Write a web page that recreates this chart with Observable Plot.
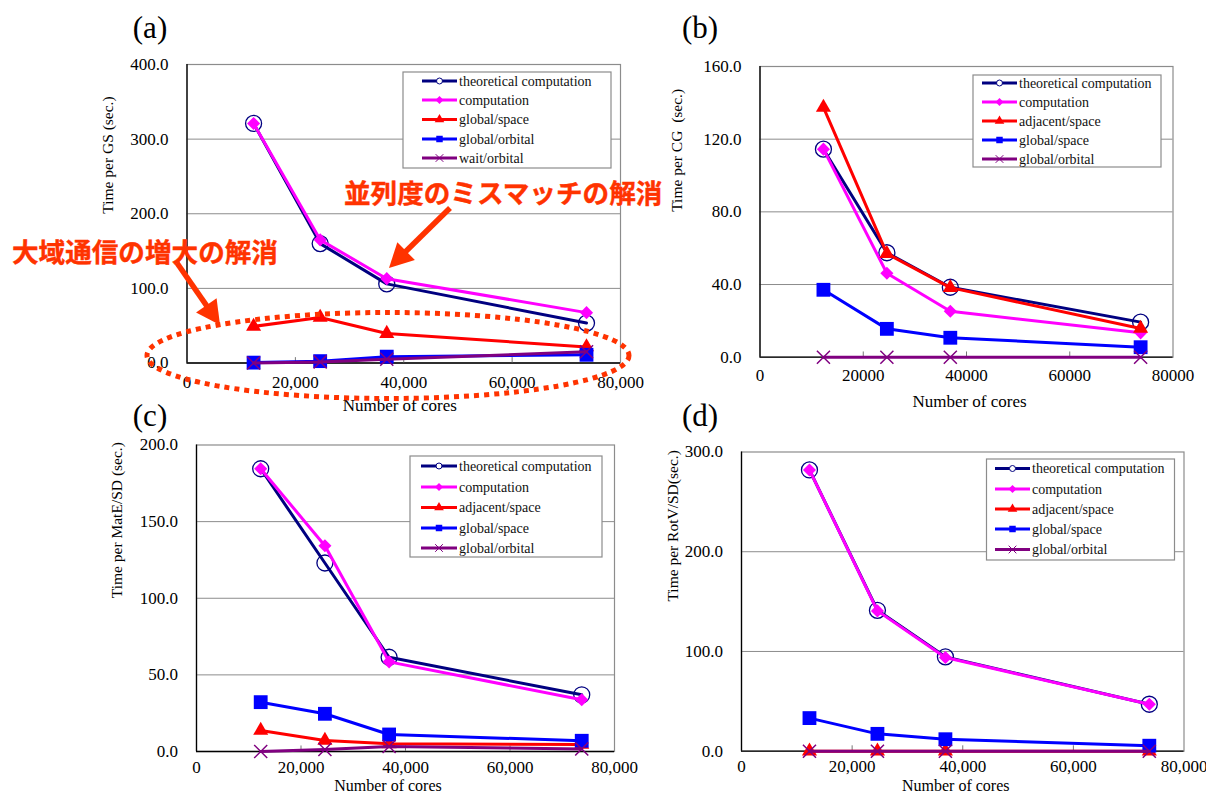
<!DOCTYPE html>
<html><head><meta charset="utf-8">
<script src="https://cdn.jsdelivr.net/npm/d3@7"></script>
<script src="https://cdn.jsdelivr.net/npm/@observablehq/plot@0.6"></script>
<style>
body{margin:0;background:#fff;}
#wrap{position:relative;width:1206px;height:794px;overflow:hidden;background:#fff;}
#wrap svg{position:absolute;overflow:visible;}
.serif{font-family:"Liberation Serif","Times New Roman",Times,serif;}
.jp{font-family:"Noto Sans CJK JP","Noto Sans CJK SC",sans-serif;font-weight:700;}
</style></head><body><div id="wrap"></div>
<script>
// ---------- data ----------
const cores = [12288, 24576, 36864, 73728];
const xTicks = [0, 20000, 40000, 60000, 80000];
const xLabel = "Number of cores";

// (a) Time per GS
const aNames = ["theoretical computation", "computation", "global/space", "global/orbital", "wait/orbital"];
const aTheoretical = [321, 160, 106, 53.5];
const aComputation = [321, 165, 113, 67.5];
const aGlobalSpace = [49, 61, 39.5, 21.5];
const aGlobalOrbital = [0.5, 2.5, 8.5, 11];
const aWaitOrbital = [0, 1.5, 5, 15];
const aYTicks = [0, 100, 200, 300, 400];
const aYLabel = "Time per GS (sec.)";

// (b) Time per CG
const bNames = ["theoretical computation", "computation", "adjacent/space", "global/space", "global/orbital"];
const bTheoretical = [114.5, 57.5, 38.5, 19.3];
const bComputation = [114.5, 46.2, 25.3, 13.4];
const bAdjacentSpace = [137.5, 57, 38.3, 15.8];
const bGlobalSpace = [37.1, 15.6, 10.7, 5.5];
const bGlobalOrbital = [0, 0, 0, 0];
const bYTicks = [0, 40, 80, 120, 160];
const bYLabel = "Time per CG\u00a0 (sec.)";

// (c) Time per MatE/SD
const cNames = ["theoretical computation", "computation", "adjacent/space", "global/space", "global/orbital"];
const cTheoretical = [184.5, 123, 61.5, 37];
const cComputation = [184.5, 134.3, 58.5, 33.8];
const cAdjacentSpace = [13.7, 7.2, 5, 4.6];
const cGlobalSpace = [32.2, 24.6, 11.1, 7];
const cGlobalOrbital = [0, 1.3, 3.3, 1.7];
const cYTicks = [0, 50, 100, 150, 200];
const cYLabel = "Time per MatE/SD (sec.)";

// (d) Time per RotV/SD
const dNames = ["theoretical computation", "computation", "adjacent/space", "global/space", "global/orbital"];
const dTheoretical = [282, 141.3, 94.6, 47.1];
const dComputation = [282, 140.7, 94, 47];
const dAdjacentSpace = [0, 0, 0, 0];
const dGlobalSpace = [33.2, 17.4, 12, 5.5];
const dGlobalOrbital = [0, 0, 0, 0];
const dYTicks = [0, 100, 200, 300];
const dYLabel = "Time per RotV/SD(sec.)";

const noteLeft = "大域通信の増大の解消";
const noteRight = "並列度のミスマッチの解消";

// ---------- styles ----------
const SERIF = "'Liberation Serif', 'Times New Roman', Times, serif";
const styles = [
  {color: "#000080", symbol: "circle", r: 8, fill: "none", stroke: "#000080", sw: 1.3},
  {color: "#ff00ff", symbol: "diamond2", r: 5.9, fill: "#ff00ff", stroke: "none", sw: 0},
  {color: "#ff0000", symbol: "triangle", r: 5.6, fill: "#ff0000", stroke: "none", sw: 0},
  {color: "#0000ff", symbol: "square", r: 7.8, fill: "#0000ff", stroke: "none", sw: 0},
  {color: "#800080", symbol: "times", r: 6, fill: "none", stroke: "#800080", sw: 1.5}
];

const wrap = document.getElementById("wrap");

function panel(cfg) {
  const {box, frame, names, values, yTicks, yLabel, xFmt, yLabDx, xLabDx, xLabDy, tickPad, xLabSize} = cfg;
  const ymax = yTicks[yTicks.length - 1];
  const marks = [
    Plot.ruleY(yTicks.filter(t => t > 0 && t < ymax), {y: d => d, stroke: "#8c8c8c", strokeWidth: 1}),
    Plot.frame({stroke: "#8c8c8c", strokeWidth: 1.2}),
    Plot.ruleX([0], {x: d => d, stroke: "#000", strokeWidth: 1.3}),
    Plot.ruleY([0], {y: d => d, stroke: "#000", strokeWidth: 1.3}),
    Plot.ruleX(xTicks.slice(1, -1), {x: d => d, y1: 0, y2: ymax * 0.018, stroke: "#777"}),
    Plot.axisY({ticks: yTicks, tickSize: 0, tickPadding: 18.5, tickFormat: d3.format(".1f"), label: null, fontSize: 17}),
    Plot.axisX({ticks: xTicks, tickSize: 0, tickPadding: tickPad, tickFormat: xFmt, label: null, fontSize: 17})
  ];
  names.forEach((n, i) => {
    const s = styles[i];
    const rows = values[i].map((v, j) => ({x: cores[j], y: v, series: n}));
    marks.push(Plot.line(rows, {x: "x", y: "y", stroke: s.color, strokeWidth: 3}));
    marks.push(Plot.dot(rows, {x: "x", y: "y", symbol: s.symbol, r: s.r, fill: s.fill, stroke: s.stroke, strokeWidth: s.sw}));
  });
  marks.push(Plot.text([yLabel], {frameAnchor: "left", dx: yLabDx, rotate: -90, fontSize: 15.5, fill: "#000"}));
  marks.push(Plot.text([xLabel], {frameAnchor: "bottom", dx: xLabDx, dy: xLabDy, lineAnchor: "middle", fontSize: xLabSize, fill: "#000"}));
  const svg = Plot.plot({
    width: box.w, height: box.h,
    marginLeft: frame.x0 - box.left, marginTop: frame.y0 - box.top,
    marginRight: box.left + box.w - frame.x1, marginBottom: box.top + box.h - frame.y1,
    x: {domain: [0, 80000]},
    y: {domain: [0, ymax]},
    style: {fontFamily: SERIF, fontSize: "17px", background: "transparent", color: "#000", overflow: "visible"},
    marks
  });
  svg.style.left = box.left + "px";
  svg.style.top = box.top + "px";
  wrap.appendChild(svg);
}

const comma = d3.format(",");
panel({box: {left: 0, top: 0, w: 650, h: 415}, frame: {x0: 186.5, x1: 620, y0: 64, y1: 362.5},
  names: aNames, values: [aTheoretical, aComputation, aGlobalSpace, aGlobalOrbital, aWaitOrbital],
  yTicks: aYTicks, yLabel: aYLabel, xFmt: comma, yLabDx: -78.5, xLabDx: -4, xLabDy: 42.5, tickPad: 12.5, xLabSize: 17});
panel({box: {left: 640, top: 0, w: 566, h: 412}, frame: {x0: 759.5, x1: 1172.5, y0: 66, y1: 356.7},
  names: bNames, values: [bTheoretical, bComputation, bAdjacentSpace, bGlobalSpace, bGlobalOrbital],
  yTicks: bYTicks, yLabel: bYLabel, xFmt: d3.format("d"), yLabDx: -82.5, xLabDx: 3, xLabDy: 44, tickPad: 12, xLabSize: 17});
panel({box: {left: 0, top: 420, w: 640, h: 374}, frame: {x0: 196, x1: 614, y0: 444.5, y1: 751},
  names: cNames, values: [cTheoretical, cComputation, cAdjacentSpace, cGlobalSpace, cGlobalOrbital],
  yTicks: cYTicks, yLabel: cYLabel, xFmt: comma, yLabDx: -79, xLabDx: -17.5, xLabDy: 34, tickPad: 9, xLabSize: 16});
panel({box: {left: 640, top: 420, w: 566, h: 374}, frame: {x0: 741, x1: 1183.5, y0: 451.5, y1: 750.7},
  names: dNames, values: [dTheoretical, dComputation, dAdjacentSpace, dGlobalSpace, dGlobalOrbital],
  yTicks: dYTicks, yLabel: dYLabel, xFmt: comma, yLabDx: -68, xLabDx: -7, xLabDy: 34.3, tickPad: 9, xLabSize: 16});

// ---------- overlay: legends, panel letters, annotations ----------
const ov = d3.select(wrap).append("svg").attr("width", 1206).attr("height", 794)
  .style("left", "0px").style("top", "0px");

const legends = [
  {names: aNames, x0: 403, y0: 72, x1: 611, y1: 168, rows: [81, 100, 119.5, 139, 158], s0: 422, s1: 457, tx: 459},
  {names: bNames, x0: 973, y0: 75, x1: 1161, y1: 167, rows: [83, 102, 121, 140, 159], s0: 982, s1: 1017, tx: 1019},
  {names: cNames, x0: 410, y0: 456, x1: 602, y1: 557, rows: [466, 487, 507.5, 528, 548], s0: 421, s1: 457, tx: 459},
  {names: dNames, x0: 986.5, y0: 459, x1: 1174.5, y1: 560, rows: [468.5, 489, 509, 529, 549.5], s0: 995, s1: 1030, tx: 1032}
];
const legSym = [
  {t: d3.symbolCircle, size: 28},
  {t: d3.symbolDiamond2, size: 40},
  {t: d3.symbolTriangle, size: 40},
  {t: d3.symbolSquare, size: 42},
  {t: d3.symbolTimes, size: 40}
];
legends.forEach(L => {
  ov.append("rect").attr("x", L.x0).attr("y", L.y0).attr("width", L.x1 - L.x0).attr("height", L.y1 - L.y0)
    .attr("fill", "#fff").attr("stroke", "#8c8c8c").attr("stroke-width", 1.2);
  L.names.forEach((n, i) => {
    const s = styles[i], y = L.rows[i];
    ov.append("line").attr("x1", L.s0).attr("x2", L.s1).attr("y1", y).attr("y2", y)
      .attr("stroke", s.color).attr("stroke-width", 3);
    ov.append("path").attr("transform", `translate(${(L.s0 + L.s1) / 2},${y})`)
      .attr("d", d3.symbol(legSym[i].t, legSym[i].size)())
      .attr("fill", s.fill === "none" ? (i === 0 ? "#fff" : "none") : s.fill)
      .attr("stroke", s.stroke).attr("stroke-width", s.sw ? 1 : 0);
    ov.append("text").attr("class", "serif").attr("font-family", SERIF).attr("x", L.tx).attr("y", y).attr("dy", "0.35em")
      .style("font-size", "14px").attr("fill", "#111").text(n);
  });
});

const letters = [["(a)", 150, 38], ["(b)", 700, 38], ["(c)", 150, 426], ["(d)", 700, 426]];
letters.forEach(([t, x, y]) => {
  ov.append("text").attr("class", "serif").attr("x", x).attr("y", y).attr("text-anchor", "middle")
    .style("font-size", "31px").attr("fill", "#000").text(t);
});

const RED = "#ff3300";
ov.append("ellipse").attr("cx", 388).attr("cy", 355.5).attr("rx", 241).attr("ry", 43)
  .attr("fill", "none").attr("stroke", RED).attr("stroke-width", 5).attr("stroke-dasharray", "5 5");

function arrow(x1, y1, x2, y2) {
  const dx = x2 - x1, dy = y2 - y1, L = Math.hypot(dx, dy), ux = dx / L, uy = dy / L, px = -uy, py = ux;
  const hl = 24, hw = 12.5, bx = x2 - ux * hl, by = y2 - uy * hl;
  ov.append("line").attr("x1", x1).attr("y1", y1).attr("x2", bx + ux * 2).attr("y2", by + uy * 2)
    .attr("stroke", RED).attr("stroke-width", 5.5);
  ov.append("path").attr("d", `M${x2},${y2}L${bx + px * hw},${by + py * hw}L${bx - px * hw},${by - py * hw}Z`)
    .attr("fill", RED);
}
arrow(450, 208, 389, 268);
arrow(177, 263, 220, 325);

ov.append("text").attr("class", "jp").attr("x", 12).attr("y", 252).attr("dy", "0.36em")
  .style("font-size", "26.6px").attr("fill", RED).attr("stroke", RED).attr("stroke-width", 0.4).text(noteLeft);
ov.append("text").attr("class", "jp").attr("x", 344).attr("y", 193).attr("dy", "0.36em")
  .style("font-size", "26.6px").attr("fill", RED).attr("stroke", RED).attr("stroke-width", 0.4).text(noteRight);
</script>
</body></html>
